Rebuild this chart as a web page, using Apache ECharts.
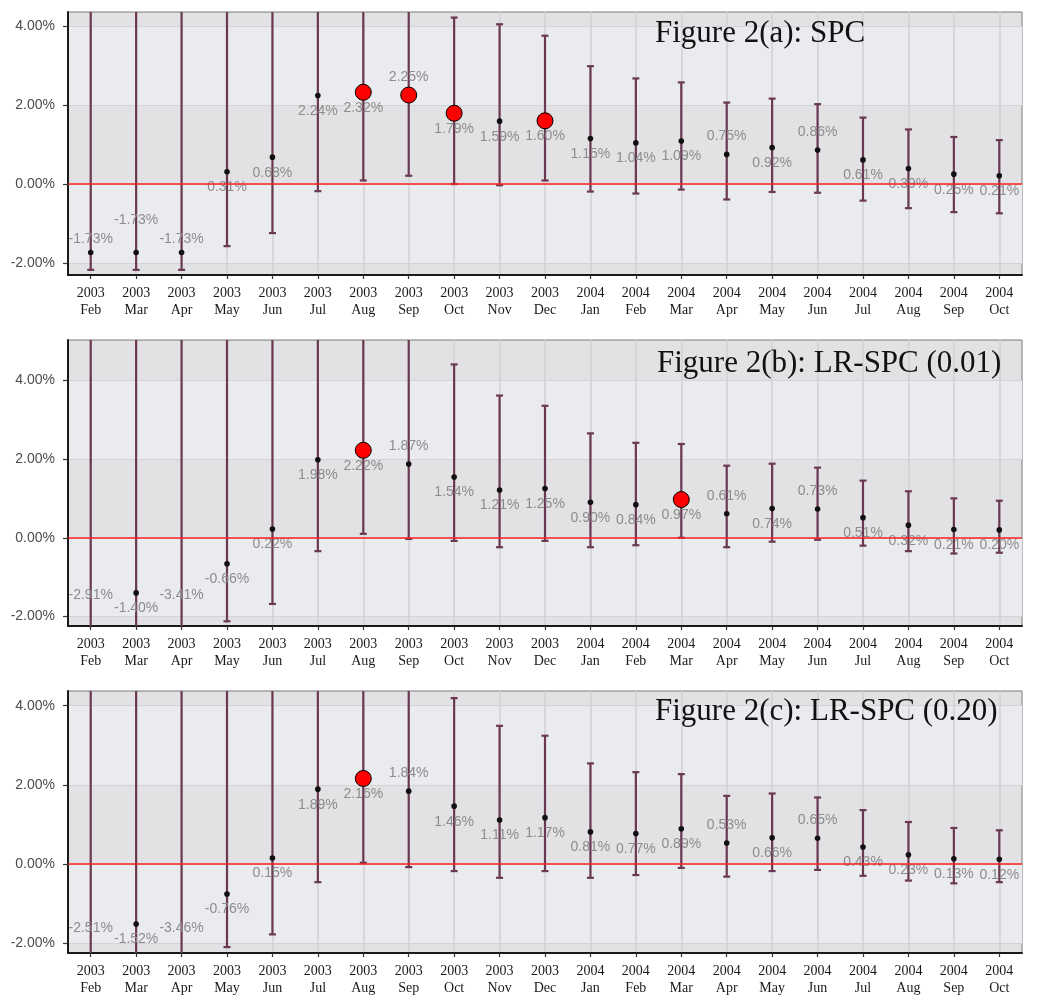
<!DOCTYPE html>
<html>
<head>
<meta charset="utf-8">
<script src="https://cdn.jsdelivr.net/npm/echarts@6/dist/echarts.min.js"></script>
<style>
html,body{margin:0;padding:0;background:#ffffff;}
#chart{width:1050px;height:1004px;}
</style>
</head>
<body>
<div id="chart"></div>
<script>
// ---------- categories & ticks ----------
const years  = ['2003','2003','2003','2003','2003','2003','2003','2003','2003','2003','2003',
                '2004','2004','2004','2004','2004','2004','2004','2004','2004','2004'];
const months = ['Feb','Mar','Apr','May','Jun','Jul','Aug','Sep','Oct','Nov','Dec',
                'Jan','Feb','Mar','Apr','May','Jun','Jul','Aug','Sep','Oct'];
const yTicks = [-2, 0, 2, 4];
const titles = ['Figure 2(a): SPC', 'Figure 2(b): LR-SPC (0.01)', 'Figure 2(c): LR-SPC (0.20)'];

// ---------- Figure 2(a): SPC ----------
const spcValue  = [-1.73,-1.73,-1.73,0.31,0.68,2.24,2.32,2.25,1.79,1.59,1.60,1.15,1.04,1.09,0.75,0.92,0.86,0.61,0.39,0.25,0.21];
const spcLower  = [-2.17,-2.17,-2.17,-1.57,-1.24,-0.18,0.09,0.21,0.00,-0.03,0.09,-0.19,-0.24,-0.14,-0.39,-0.20,-0.22,-0.42,-0.61,-0.71,-0.74];
const spcUpper  = [8.5,8.5,8.5,7.0,6.0,4.7,4.6,4.5,4.21,4.04,3.75,2.98,2.67,2.57,2.06,2.16,2.02,1.68,1.38,1.19,1.11];
const spcSignal = [0,0,0,0,0,0,1,1,1,0,1,0,0,0,0,0,0,0,0,0,0];

// ---------- Figure 2(b): LR-SPC (0.01) ----------
const lr01Value  = [-2.91,-1.40,-3.41,-0.66,0.22,1.98,2.22,1.87,1.54,1.21,1.25,0.90,0.84,0.97,0.61,0.74,0.73,0.51,0.32,0.21,0.20];
const lr01Lower  = [-9,-9,-9,-2.12,-1.68,-0.34,0.10,-0.03,-0.08,-0.24,-0.08,-0.24,-0.19,0.00,-0.24,-0.10,-0.05,-0.20,-0.34,-0.40,-0.38];
const lr01Upper  = [9,9,9,8,7,5.8,5.5,5.2,4.40,3.61,3.35,2.65,2.41,2.38,1.83,1.88,1.78,1.45,1.18,1.00,0.94];
const lr01Signal = [0,0,0,0,0,0,1,0,0,0,0,0,0,1,0,0,0,0,0,0,0];

// ---------- Figure 2(c): LR-SPC (0.20) ----------
const lr20Value  = [-2.51,-1.52,-3.46,-0.76,0.15,1.89,2.16,1.84,1.46,1.11,1.17,0.81,0.77,0.89,0.53,0.66,0.65,0.43,0.23,0.13,0.12];
const lr20Lower  = [-9,-9,-9,-2.10,-1.78,-0.46,0.03,-0.08,-0.18,-0.35,-0.18,-0.35,-0.28,-0.10,-0.32,-0.18,-0.15,-0.30,-0.42,-0.49,-0.46];
const lr20Upper  = [9,9,9,7,6,5,4.7,4.5,4.19,3.49,3.24,2.54,2.32,2.27,1.72,1.78,1.68,1.36,1.06,0.91,0.85];
const lr20Signal = [0,0,0,0,0,0,1,0,0,0,0,0,0,0,0,0,0,0,0,0,0];

// ---------- layout / style (not data) ----------
const panels = [
  {v: spcValue,  lo: spcLower,  hi: spcUpper,  sig: spcSignal,  top: 12,  height: 263, min: -2.30, max: 4.35,
   above: [0,1,2,7,14,16], dy: {0:-13, 1:-32, 2:-13}, titleLeft: 655, titleTop: 18.5},
  {v: lr01Value, lo: lr01Lower, hi: lr01Upper, sig: lr01Signal, top: 340, height: 286, min: -2.24, max: 5.02,
   above: [7,14,16], dy: {0:-31, 2:-31}, titleLeft: 657, titleTop: 348.3},
  {v: lr20Value, lo: lr20Lower, hi: lr20Upper, sig: lr20Signal, top: 691, height: 262, min: -2.25, max: 4.37,
   above: [7,14,16], dy: {0:-25, 2:-25}, titleLeft: 655, titleTop: 696.7}
];
const GRID_LEFT = 68, GRID_WIDTH = 954;
const BAR_COLOR = '#6a3852';
const SANS = '"Liberation Sans", Arial, sans-serif';
const SERIF = '"Liberation Serif", "Times New Roman", serif';

const xLabels = years.map((y, i) => y + '\n' + months[i]);

function makeRender(p) {
  return function (params, api) {
    const i = api.value(0), v = api.value(1), lo = api.value(2), hi = api.value(3), sig = api.value(4);
    const cs = params.coordSys;
    const top = cs.y, bottom = cs.y + cs.height;
    const pv = api.coord([i, v]);
    const x = pv[0], yv = pv[1];
    const yLo = api.coord([i, lo])[1];
    const yHi = api.coord([i, hi])[1];
    const st = {stroke: BAR_COLOR, lineWidth: 2.2};
    const children = [];
    children.push({type: 'line', shape: {x1: x, y1: Math.max(yHi, top), x2: x, y2: Math.min(yLo, bottom)}, style: st});
    const cap = 3.5;
    if (yHi >= top) children.push({type: 'line', shape: {x1: x - cap, y1: yHi, x2: x + cap, y2: yHi}, style: st});
    if (yLo <= bottom) children.push({type: 'line', shape: {x1: x - cap, y1: yLo, x2: x + cap, y2: yLo}, style: st});
    if (yv >= top && yv <= bottom) {
      if (sig) {
        children.push({type: 'circle', shape: {cx: x, cy: yv, r: 8}, style: {fill: '#ff0000', stroke: '#000000', lineWidth: 1}});
      } else {
        children.push({type: 'circle', shape: {cx: x, cy: yv, r: 2.8}, style: {fill: '#111111'}});
      }
    }
    const idx = params.dataIndex;
    const dy = (p.dy[idx] !== undefined) ? p.dy[idx] : (p.above.indexOf(idx) >= 0 ? -18 : 15.5);
    const anchorY = Math.min(Math.max(yv, top), bottom);
    children.push({type: 'text', x: x, y: anchorY + dy,
      style: {text: v.toFixed(2) + '%', fill: '#8c8c8c', font: '14px ' + SANS, align: 'center', verticalAlign: 'middle'}});
    return {type: 'group', children: children};
  };
}

const grid = [], xAxis = [], yAxis = [], series = [], graphic = [];
panels.forEach((p, k) => {
  grid.push({left: GRID_LEFT, width: GRID_WIDTH, top: p.top, height: p.height, show: true,
    backgroundColor: '#e2e2e4', borderColor: '#7a7a7a', borderWidth: 1});
  xAxis.push({type: 'category', gridIndex: k, data: xLabels, boundaryGap: true, z: 2,
    axisLine: {show: true, onZero: false, lineStyle: {color: '#1a1a1a', width: 2}},
    axisTick: {show: true, alignWithLabel: true, length: 4, lineStyle: {color: '#333333', width: 1.2}},
    axisLabel: {interval: 0, color: '#1a1a1a', fontFamily: SERIF, fontSize: 14, lineHeight: 17, margin: 10},
    splitLine: {show: true, alignWithLabel: true, interval: 0, lineStyle: {color: '#d0d1d5', width: 1.5}}});
  yAxis.push({type: 'value', gridIndex: k, min: p.min, max: p.max, z: 2,
    axisLine: {show: true, onZero: false, lineStyle: {color: '#1a1a1a', width: 2}},
    axisTick: {show: true, length: 5, customValues: yTicks, lineStyle: {color: '#333333', width: 1.2}},
    axisLabel: {customValues: yTicks, formatter: (val) => val.toFixed(2) + '%', color: '#4d4d4d',
      fontFamily: SANS, fontSize: 14, margin: 13},
    splitLine: {show: true, lineStyle: {color: '#d3d3d7', width: 1}},
    splitArea: {show: false}});
  series.push({type: 'line', xAxisIndex: k, yAxisIndex: k, data: p.v, symbol: 'none', silent: true, z: 1,
    lineStyle: {opacity: 0},
    markArea: {silent: true, itemStyle: {color: '#e9ebee'},
      data: [[{yAxis: yTicks[0]}, {yAxis: yTicks[1]}], [{yAxis: yTicks[2]}, {yAxis: yTicks[3]}]]},
    markLine: {silent: true, symbol: ['none', 'none'], label: {show: false},
      lineStyle: {color: '#ff2020', width: 1.5, type: 'solid'}, data: [{yAxis: 0}]}});
  series.push({type: 'custom', xAxisIndex: k, yAxisIndex: k, z: 3, clip: false,
    data: p.v.map((val, i) => [i, val, p.lo[i], p.hi[i], p.sig[i]]),
    encode: {x: 0, y: 1},
    renderItem: makeRender(p)});
  graphic.push({type: 'text', left: p.titleLeft, top: p.titleTop, z: 10,
    style: {text: titles[k], font: '31px ' + SERIF, fill: '#111111'}});
});

const chart = echarts.init(document.getElementById('chart'), null, {renderer: 'canvas'});
chart.setOption({animation: false, backgroundColor: '#ffffff', grid, xAxis, yAxis, series, graphic});
</script>
</body>
</html>
